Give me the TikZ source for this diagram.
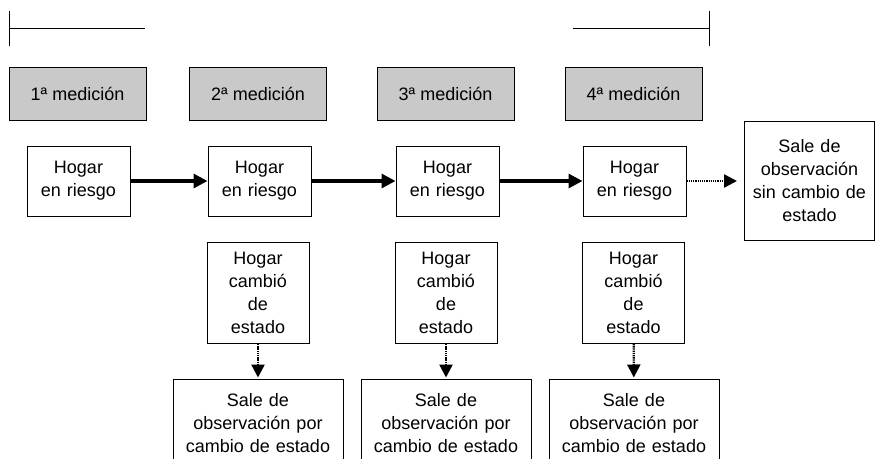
\documentclass[tikz,border=0pt]{standalone}
\usepackage{fontspec}
\setmainfont{Liberation Sans}
\usepackage{tikz}
\usetikzlibrary{arrows.meta}

\begin{document}
\begin{tikzpicture}[
    x=1pt, y=-1pt,
    every node/.style={
        draw, line width=1pt,
        inner sep=0pt,
        align=center,
        font=\fontsize{18}{23}\selectfont
    },
    medicion/.style={fill=gray!42, minimum width=137pt, minimum height=53pt},
    riesgo/.style={text width=103pt, minimum height=70pt},
    cambio/.style={text width=102pt, minimum height=101pt},
    sale/.style={text width=170pt, minimum height=88pt},
    paso/.style={line width=3.2pt, -{Triangle[length=14pt,width=14pt]}},
    salida/.style={line width=2.4pt, dash pattern=on 1.3pt off 0.9pt,
        -{Triangle[length=13pt,width=13pt]}}
]
\clip (0,0) rectangle (875,458);

% periodo de observacion
\coordinate (ini) at (9,28);
\coordinate (fin) at (709,28);
\draw[line width=1pt] (9,11) -- (9,46) (ini) -- (145,28);
\draw[line width=1pt] (709,11) -- (709,46) (573,28) -- (fin);

\node[medicion] (med1) at (77.5,93.5) {1ª medición};
\node[medicion] (med2) at (258,93.5) {2ª medición};
\node[medicion] (med3) at (445.5,93.5) {3ª medición};
\node[medicion] (med4) at (633.5,93.5) {4ª medición};

\node[riesgo] (riesgo1) at (78.5,181) {Hogar\\en riesgo};
\node[riesgo] (riesgo2) at (259.5,181) {Hogar\\en riesgo};
\node[riesgo] (riesgo3) at (447.5,181) {Hogar\\en riesgo};
\node[riesgo] (riesgo4) at (634.5,181) {Hogar\\en riesgo};

\node[text width=130pt, minimum height=119pt] (sincambio) at (809.5,180.5)
    {Sale de\\observación\\sin cambio de\\estado};

\node[cambio] (cambio2) at (258,293) {Hogar\\cambió\\de\\estado};
\node[cambio] (cambio3) at (446,293) {Hogar\\cambió\\de\\estado};
\node[cambio] (cambio4) at (633.5,293) {Hogar\\cambió\\de\\estado};

\node[sale] (sale2) at (258,423) {Sale de\\observación por\\cambio de estado};
\node[sale] (sale3) at (446,423) {Sale de\\observación por\\cambio de estado};
\node[sale] (sale4) at (634,423) {Sale de\\observación por\\cambio de estado};

\draw[paso] (riesgo1) -- (riesgo2);
\draw[paso] (riesgo2) -- (riesgo3);
\draw[paso] (riesgo3) -- (riesgo4);
\draw[salida, shorten >=7pt] (riesgo4) -- (sincambio.west |- riesgo4);

\draw[salida, shorten >=1pt] (cambio2) -- (sale2);
\draw[salida, shorten >=1pt] (cambio3) -- (sale3);
\draw[salida, shorten >=1pt] (cambio4) -- (sale4);
\end{tikzpicture}
\end{document}
